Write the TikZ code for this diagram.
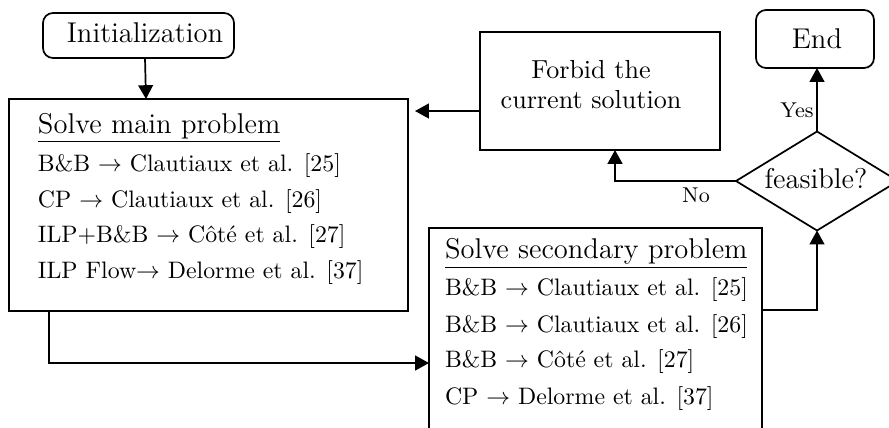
\documentclass[tikz,border=0pt]{standalone}
\usetikzlibrary{shapes.geometric,arrows.meta,calc}
\def\u{0.42pt}
\tikzset{
 boxnode/.style={draw, rectangle, inner sep=0pt, outer sep=0pt},
 roundbox/.style={boxnode, rounded corners=4.2pt},
 txt/.style={inner sep=0pt, outer sep=0pt, anchor=base west, font=\fontsize{10}{12}\selectfont},
 head/.style={txt, font=\fontsize{12}{14}\selectfont},
 ctxt/.style={head, anchor=base},
 ftxt/.style={ctxt, font=\fontsize{10.95}{13}\selectfont},
 lbl/.style={inner sep=0pt, outer sep=0pt, anchor=base, font=\fontsize{9}{11}\selectfont},
 arr/.style={-{Triangle[length=5.8pt,width=6.2pt]}},
}
\begin{document}
\begin{tikzpicture}[x=\u,y=-\u,line width=0.72pt]
\clip (0,0) rectangle (889,427);
% boxes
\node[roundbox, minimum width=191*\u, minimum height=45*\u] (init) at (138.5,35.5) {};
\node[boxnode, minimum width=399*\u, minimum height=212*\u] (main) at (208.5,205) {};
\node[boxnode, minimum width=333*\u, minimum height=212*\u] (sec) at (595.5,334) {};
\node[boxnode, minimum width=240*\u, minimum height=118*\u] (forbid) at (600,91) {};
\node[roundbox, minimum width=118*\u, minimum height=58*\u] (end) at (815,39) {};
\node[draw, diamond, aspect=1.64, minimum width=162*\u, minimum height=99*\u, inner sep=0pt, outer sep=0pt] (dia) at (817,181) {};
% texts
\node[ctxt] (inittxt) at (145,42) {Initialization};
\node[ctxt] (endtxt) at (817,48) {End};
\node[ctxt] (diatxt) at (816,188) {feasible?};
\node[ftxt] (f1) at (591,78) {Forbid the};
\node[ftxt] (f2) at (591,108) {current solution};
\node[head] (m0) at (38,133) {\underline{Solve main problem}};
\node[txt] (m1) at (38,171) {B\&B $\rightarrow$ Clautiaux et al. [25]};
\node[txt] (m2) at (38,207) {CP $\rightarrow$ Clautiaux et al. [26]};
\node[txt] (m3) at (38,242) {ILP+B\&B $\rightarrow$ Côté et al. [27]};
\node[txt] (m4) at (38,278) {ILP Flow$\rightarrow$ Delorme et al. [37]};
\node[head] (s0) at (445,258) {\underline{Solve secondary problem}};
\node[txt] (s1) at (445,295) {B\&B $\rightarrow$ Clautiaux et al. [25]};
\node[txt] (s2) at (445,332) {B\&B $\rightarrow$ Clautiaux et al. [26]};
\node[txt] (s3) at (445,367) {B\&B $\rightarrow$ Côté et al. [27]};
\node[txt] (s4) at (445,404) {CP $\rightarrow$ Delorme et al. [37]};
\node[lbl] (yes) at (797,117) {Yes};
\node[lbl] (no) at (696,202) {No};
% connectors
\draw[arr] ($(init.south)+(6.5,0)$) -- ($(main.north)+(-62.5,0)$);
\draw[arr] ($(forbid.west)+(0,20)$) -- ($(main.east|-forbid.west)+(7,20)$);
\draw[arr] (dia.west) -| ($(forbid.south)+(15,0)$);
\draw[arr] (dia.north) -- (dia.north|-end.south);
\draw[arr] ($(sec.east)+(0,-24)$) -| (dia.south);
\draw[arr] ($(main.south west)+(40,0)$) |- ($(sec.west)+(0,29)$);
\end{tikzpicture}
\end{document}
